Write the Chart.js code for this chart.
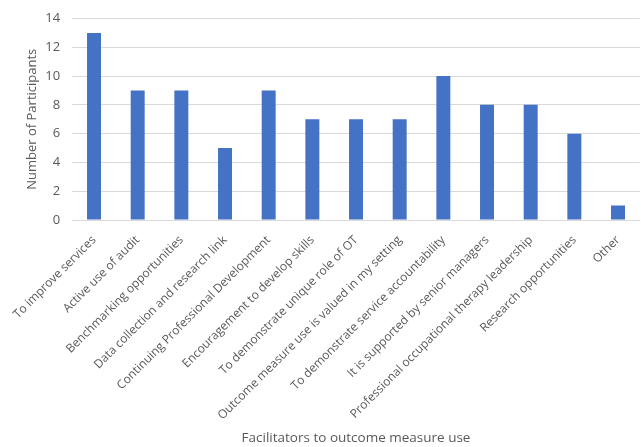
<!DOCTYPE html>
<html>
<head>
<meta charset="utf-8">
<script src="https://cdn.jsdelivr.net/npm/chart.js@4/dist/chart.umd.min.js"></script>
<style>
  html, body { margin: 0; padding: 0; background: #fff; }
  #wrap { width: 641px; height: 447px; position: relative; }
</style>
</head>
<body>
<div id="wrap"><canvas id="c"></canvas></div>
<script>
// Facilitators reported by participants
const categories = [
  "To improve services",
  "Active use of audit",
  "Benchmarking opportunities",
  "Data collection and research link",
  "Continuing Professional Development",
  "Encouragement to develop skills",
  "To demonstrate unique role of OT",
  "Outcome measure use is valued in my setting",
  "To demonstrate service accountability",
  "It is supported by senior managers",
  "Professional occupational therapy leadership",
  "Research opportunities",
  "Other"
];
const participants = [13, 9, 9, 5, 9, 7, 7, 7, 10, 8, 8, 6, 1];
const yTicks = [0, 2, 4, 6, 8, 10, 12, 14];

const textColor = '#595959';
const fontFamily = '"Open Sans", "Liberation Sans", sans-serif';

new Chart(document.getElementById('c'), {
  type: 'bar',
  data: {
    labels: categories,
    datasets: [{
      data: participants,
      backgroundColor: '#4472c4',
      categoryPercentage: 1,
      barPercentage: 0.32
    }]
  },
  options: {
    responsive: true,
    maintainAspectRatio: false,
    animation: false,
    layout: { padding: { left: 8, right: 0, top: 6, bottom: 1 } },
    plugins: { legend: { display: false }, tooltip: { enabled: false } },
    scales: {
      x: {
        // fixed band for the slanted category names and the axis title
        afterFit: (axis) => { axis.height = 226; },
        grid: { display: false, drawTicks: false },
        border: { color: '#d9d9d9' },
        ticks: {
          color: textColor,
          font: { family: fontFamily, size: 12 },
          minRotation: 45,
          maxRotation: 45,
          autoSkip: false,
          padding: 13
        },
        title: {
          display: true,
          text: 'Facilitators to outcome measure use',
          color: textColor,
          font: { family: fontFamily, size: 13.5 },
          padding: { top: 6, bottom: 0 }
        }
      },
      y: {
        min: 0,
        max: 14,
        afterBuildTicks: (axis) => { axis.ticks = yTicks.map(v => ({ value: v })); },
        afterFit: (axis) => { axis.width = 59; },
        grid: { color: '#d9d9d9', drawTicks: false },
        border: { display: false },
        ticks: {
          color: textColor,
          font: { family: fontFamily, size: 13, lineHeight: 1 },
          padding: 12
        },
        title: {
          display: true,
          text: 'Number of Participants',
          color: textColor,
          font: { family: fontFamily, size: 13 },
          padding: { top: 11, bottom: 2 }
        }
      }
    }
  }
});
</script>
</body>
</html>
